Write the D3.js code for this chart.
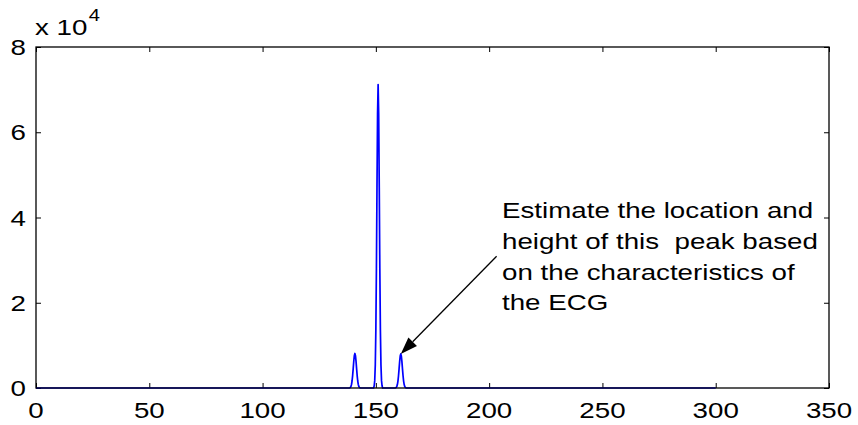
<!DOCTYPE html>
<html>
<head>
<meta charset="utf-8">
<script src="https://cdn.jsdelivr.net/npm/d3@7/dist/d3.min.js"></script>
<style>
  html, body { margin: 0; padding: 0; background: #fff; }
  svg { display: block; }
  text { font-family: "Liberation Sans", Arial, sans-serif; fill: #000; }
</style>
</head>
<body>
<svg id="chart" width="858" height="425"></svg>
<script>
// Signal samples (x position, amplitude)
const sampleX = [
  0,
  138.25, 138.5, 138.75, 139, 139.25, 139.5, 139.75, 140, 140.25, 140.5, 140.75,
  141, 141.25, 141.5, 141.75, 142, 142.25, 142.5, 142.75, 143, 143.25,
  149, 149.25, 149.5, 149.75, 150, 150.25, 150.5, 150.75, 151,
  151.25, 151.5, 151.75, 152, 152.25, 152.5, 152.75, 153,
  158.5, 158.75, 159, 159.25, 159.5, 159.75, 160, 160.25, 160.5, 160.75, 161,
  161.25, 161.5, 161.75, 162, 162.25, 162.5, 162.75, 163, 163.25, 163.5,
  300
];
const sampleY = [
  0,
  0, 50, 140, 360, 820, 1640, 2920, 4560, 6280, 7600, 8100,
  7600, 6280, 4560, 2920, 1640, 820, 360, 140, 50, 0,
  0, 450, 1730, 5380, 13600, 28100, 47100, 64200, 71200,
  64200, 47100, 28100, 13600, 5380, 1730, 450, 0,
  0, 50, 140, 350, 810, 1620, 2880, 4500, 6200, 7500, 8000,
  7500, 6200, 4500, 2880, 1620, 810, 350, 140, 50, 0,
  0
];

const xTicks = [0, 50, 100, 150, 200, 250, 300, 350];
const yTicks = [0, 20000, 40000, 60000, 80000];
const yTickLabels = ["0", "2", "4", "6", "8"];

const noteLines = [
  "Estimate the location and",
  "height of this  peak based",
  "on the characteristics of",
  "the ECG"
];
// arrow: tail in data units, head on the third peak
const arrowTail = [203.3, 30900];
const arrowHead = [161, 8000];

const svg = d3.select("#chart");
const x = d3.scaleLinear().domain([0, 350]).range([36, 829]);
const y = d3.scaleLinear().domain([0, 80000]).range([388, 47]);

const font = 22;
const stretch = 1.26;   // wide sans lettering
const place = (px, py) => `translate(${px},${py}) scale(${stretch},1)`;

// inward ticks on all four sides
svg.append("g").attr("transform", `translate(0,${y(0)})`)
  .call(d3.axisBottom(x).tickValues(xTicks).tickSizeInner(-5).tickSizeOuter(0).tickFormat(""))
  .call(g => g.select(".domain").remove());
svg.append("g").attr("transform", `translate(0,${y(80000)})`)
  .call(d3.axisTop(x).tickValues(xTicks).tickSizeInner(-5).tickSizeOuter(0).tickFormat(""))
  .call(g => g.select(".domain").remove());
svg.append("g").attr("transform", `translate(${x(0)},0)`)
  .call(d3.axisLeft(y).tickValues(yTicks).tickSizeInner(-5).tickSizeOuter(0).tickFormat(""))
  .call(g => g.select(".domain").remove());
svg.append("g").attr("transform", `translate(${x(350)},0)`)
  .call(d3.axisRight(y).tickValues(yTicks).tickSizeInner(-5).tickSizeOuter(0).tickFormat(""))
  .call(g => g.select(".domain").remove());
svg.selectAll(".tick line").attr("stroke", "#000").attr("stroke-width", 1);

// tick labels
svg.append("g").selectAll("text").data(xTicks).join("text")
  .attr("transform", d => place(x(d), 418))
  .attr("text-anchor", "middle").attr("font-size", font)
  .text(d => d);
svg.append("g").selectAll("text").data(yTicks).join("text")
  .attr("transform", d => place(26, y(d) + 8))
  .attr("text-anchor", "end").attr("font-size", font)
  .text((d, i) => yTickLabels[i]);

// exponent label
const expo = svg.append("text").attr("transform", place(35, 35)).attr("font-size", font);
expo.append("tspan").text("x 10");
expo.append("tspan").attr("dy", -14).attr("dx", 1).attr("font-size", 16).text("4");

// signal
const pts = sampleX.map((v, i) => [v, sampleY[i]]);
svg.append("path")
  .datum(pts)
  .attr("fill", "none")
  .attr("stroke", "#0000ff")
  .attr("stroke-width", 1.7)
  .attr("stroke-linejoin", "round")
  .attr("d", d3.line().x(d => x(d[0])).y(d => y(d[1])));

// plot box
svg.append("rect")
  .attr("x", x(0)).attr("y", y(80000))
  .attr("width", x(350) - x(0)).attr("height", y(0) - y(80000))
  .attr("fill", "none").attr("stroke", "#000").attr("stroke-width", 1.3);

// annotation text
svg.append("g").selectAll("text").data(noteLines).join("text")
  .attr("transform", (d, i) => place(502, 218 + i * 30.8))
  .attr("font-size", font)
  .style("white-space", "pre")
  .text(d => d);

// arrow
const tx = x(arrowTail[0]), ty = y(arrowTail[1]);
const hx = x(arrowHead[0]), hy = y(arrowHead[1]);
const ang = Math.atan2(hy - ty, hx - tx);
const headLen = 17, headHalf = 6;
const bx = hx - headLen * Math.cos(ang), by = hy - headLen * Math.sin(ang);
svg.append("line")
  .attr("x1", tx).attr("y1", ty).attr("x2", bx).attr("y2", by)
  .attr("stroke", "#000").attr("stroke-width", 1.3);
svg.append("path")
  .attr("d", d3.line()([
    [hx, hy],
    [bx + headHalf * Math.sin(ang), by - headHalf * Math.cos(ang)],
    [bx - headHalf * Math.sin(ang), by + headHalf * Math.cos(ang)]
  ]) + "Z")
  .attr("fill", "#000");
</script>
</body>
</html>
